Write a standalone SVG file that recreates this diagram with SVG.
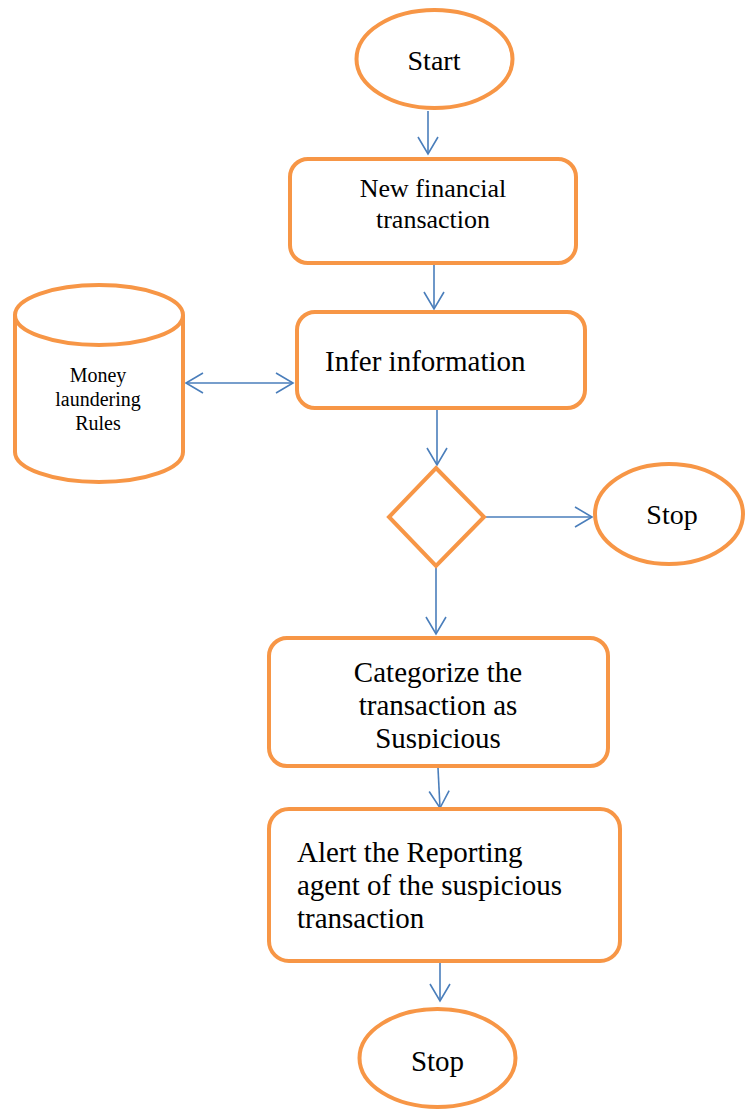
<svg xmlns="http://www.w3.org/2000/svg" width="745" height="1109" viewBox="0 0 745 1109">
  <style>
    .shape { fill: #FFFFFF; stroke: #F79646; stroke-width: 4; }
    .conn { fill: none; stroke: #4A7EBB; stroke-width: 1.6; }
    .lbl { font-family: "Liberation Serif", "Times New Roman", serif; fill: #000000; }
  </style>
  <defs>
    <marker id="arr" viewBox="0 0 20 22" refX="18" refY="11" markerWidth="20" markerHeight="22" markerUnits="userSpaceOnUse" orient="auto-start-reverse">
      <path d="M1,1 L18,11 L1,21" fill="none" stroke="#4A7EBB" stroke-width="1.6"/>
    </marker>
    <clipPath id="clip3">
      <rect x="260" y="630" width="360" height="119"/>
    </clipPath>
  </defs>

  <g id="connectors">
    <line class="conn" x1="428" y1="111" x2="428" y2="154" marker-end="url(#arr)"/>
    <line class="conn" x1="434" y1="265" x2="434" y2="309" marker-end="url(#arr)"/>
    <line class="conn" x1="186" y1="383" x2="293" y2="383" marker-start="url(#arr)" marker-end="url(#arr)"/>
    <line class="conn" x1="437" y1="410" x2="437" y2="465" marker-end="url(#arr)"/>
    <line class="conn" x1="485" y1="517" x2="592" y2="517" marker-end="url(#arr)"/>
    <line class="conn" x1="436" y1="567" x2="436" y2="634" marker-end="url(#arr)"/>
    <line class="conn" x1="438" y1="768" x2="440" y2="808" marker-end="url(#arr)"/>
    <line class="conn" x1="440" y1="963" x2="440" y2="1001" marker-end="url(#arr)"/>
  </g>

  <g id="start">
    <ellipse class="shape" cx="434.5" cy="59" rx="78" ry="49"/>
    <text class="lbl" x="434" y="70" font-size="28" text-anchor="middle">Start</text>
  </g>

  <g id="new-transaction">
    <rect class="shape" x="290" y="159" width="286" height="104" rx="18" ry="18"/>
    <text class="lbl" x="433" y="197" font-size="26" text-anchor="middle">New financial</text>
    <text class="lbl" x="433" y="228" font-size="26" text-anchor="middle">transaction</text>
  </g>

  <g id="infer">
    <rect class="shape" x="297" y="312" width="288" height="96" rx="18" ry="18"/>
    <text class="lbl" x="325" y="371" font-size="29">Infer information</text>
  </g>

  <g id="rules-db">
    <path class="shape" d="M15,315 L15,452 A84,30 0 0 0 183,452 L183,315"/>
    <ellipse class="shape" cx="99" cy="315" rx="84" ry="30"/>
    <text class="lbl" x="98" y="382" font-size="20" text-anchor="middle">Money</text>
    <text class="lbl" x="98" y="406" font-size="20" text-anchor="middle">laundering</text>
    <text class="lbl" x="98" y="430" font-size="20" text-anchor="middle">Rules</text>
  </g>

  <g id="decision">
    <polygon class="shape" points="436,468 484,517 436,566 389,517"/>
  </g>

  <g id="stop-right">
    <ellipse class="shape" cx="669" cy="514" rx="74" ry="50"/>
    <text class="lbl" x="672" y="524" font-size="28" text-anchor="middle">Stop</text>
  </g>

  <g id="categorize">
    <rect class="shape" x="269" y="638" width="339" height="128" rx="18" ry="18"/>
    <text class="lbl" x="438" y="682" font-size="29" text-anchor="middle">Categorize the</text>
    <text class="lbl" x="438" y="715" font-size="29" text-anchor="middle">transaction as</text>
    <text class="lbl" x="438" y="748" font-size="29" text-anchor="middle" clip-path="url(#clip3)">Suspicious</text>
  </g>

  <g id="alert">
    <rect class="shape" x="269" y="809" width="351" height="152" rx="20" ry="20"/>
    <text class="lbl" x="297" y="862" font-size="29">Alert the Reporting</text>
    <text class="lbl" x="297" y="895" font-size="29">agent of the suspicious</text>
    <text class="lbl" x="297" y="928" font-size="29">transaction</text>
  </g>

  <g id="stop-bottom">
    <ellipse class="shape" cx="437.5" cy="1058" rx="78" ry="49"/>
    <text class="lbl" x="437.5" y="1071" font-size="29" text-anchor="middle">Stop</text>
  </g>
</svg>
